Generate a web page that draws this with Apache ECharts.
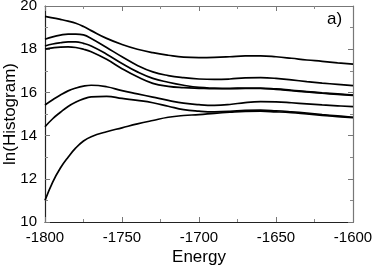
<!DOCTYPE html>
<html><head><meta charset="utf-8">
<script src="https://cdn.jsdelivr.net/npm/echarts@6/dist/echarts.min.js"></script>
<style>html,body{margin:0;padding:0;background:#fff}#c{width:374px;height:268px}</style>
</head><body><div id="c"></div>
<script>
const energies = [-1800,-1795,-1790,-1785,-1780,-1775,-1770,-1760,-1750,-1740,-1730,-1720,-1710,-1700,-1690,-1680,-1670,-1660,-1650,-1640,-1630,-1620,-1610,-1600];
const curveA = [19.52,19.45,19.38,19.30,19.20,19.05,18.86,18.50,18.22,18.00,17.84,17.72,17.63,17.61,17.62,17.65,17.69,17.69,17.65,17.58,17.50,17.44,17.37,17.31];
const curveB = [18.46,18.57,18.65,18.70,18.70,18.66,18.50,18.08,17.65,17.25,16.95,16.78,16.68,16.62,16.60,16.62,16.67,16.68,16.65,16.58,16.50,16.43,16.37,16.31];
const curveC = [18.15,18.24,18.30,18.34,18.34,18.27,18.15,17.77,17.34,16.95,16.65,16.47,16.33,16.23,16.20,16.19,16.20,16.20,16.16,16.10,16.04,15.98,15.93,15.88];
const curveD = [18.00,18.06,18.10,18.11,18.08,18.00,17.88,17.53,17.10,16.72,16.42,16.28,16.22,16.19,16.17,16.17,16.18,16.18,16.14,16.08,16.02,15.96,15.91,15.86];
const curveE = [15.42,15.66,15.88,16.07,16.20,16.29,16.33,16.26,16.08,15.93,15.78,15.63,15.50,15.43,15.40,15.44,15.53,15.57,15.56,15.52,15.47,15.42,15.38,15.34];
const curveF = [14.41,14.78,15.08,15.35,15.55,15.70,15.79,15.82,15.72,15.63,15.52,15.36,15.20,15.13,15.10,15.12,15.17,15.18,15.15,15.10,15.04,14.97,14.91,14.85];
const curveG = [11.00,11.85,12.50,13.00,13.43,13.75,13.95,14.18,14.36,14.54,14.70,14.85,14.93,14.97,15.03,15.08,15.12,15.13,15.10,15.06,15.00,14.94,14.88,14.83];
const curves = [curveA,curveB,curveC,curveD,curveE,curveF,curveG];
const xTicks = {min:-1800,max:-1600,interval:50};
const yTicks = {min:10,max:20,interval:2};

const FONT = '"Liberation Sans", Arial, sans-serif';
const chart = echarts.init(document.getElementById('c'), null, {renderer:'canvas'});
const axisCommon = (show) => ({
  axisLine:{show:true,onZero:false,lineStyle:{color:show?'#222':'#777',width:1.2}},
  axisTick:{show:true,inside:true,length:5,lineStyle:{color:'#777',width:1}},
  minorTick:{show:true,splitNumber:2,length:3,lineStyle:{color:'#888',width:1}},
  splitLine:{show:false},
  axisLabel:{show:show,color:'#000',fontFamily:FONT,fontSize:15,margin:8,formatter:v=>String(v)},
});
chart.setOption({
  animation:false,
  grid:{left:45,right:21,top:6,bottom:46,containLabel:false,outerBoundsMode:'none'},
  xAxis:[
    Object.assign({type:'value',position:'bottom',min:xTicks.min,max:xTicks.max,interval:xTicks.interval,
      name:'Energy',nameLocation:'middle',nameGap:27,nameMoveOverlap:false,
      nameTextStyle:{color:'#000',fontFamily:FONT,fontSize:17}},axisCommon(true)),
    Object.assign({type:'value',position:'top',min:xTicks.min,max:xTicks.max,interval:xTicks.interval},axisCommon(false))
  ],
  yAxis:[
    Object.assign({type:'value',position:'left',min:yTicks.min,max:yTicks.max,interval:yTicks.interval,
      name:'ln(Histogram)',nameLocation:'middle',nameGap:26,nameMoveOverlap:false,
      nameTextStyle:{color:'#000',fontFamily:FONT,fontSize:17}},axisCommon(true)),
    Object.assign({type:'value',position:'right',min:yTicks.min,max:yTicks.max,interval:yTicks.interval},axisCommon(false))
  ],
  graphic:[{type:'text',left:327,top:11,style:{text:'a)',font:'17px '+FONT,fill:'#000'}}],
  series: curves.map(c => ({
    type:'line',smooth:0.45,symbol:'none',
    data: energies.map((e,i)=>[e,c[i]]),
    lineStyle:{color:'#000',width:1.7}
  }))
});
</script></body></html>
